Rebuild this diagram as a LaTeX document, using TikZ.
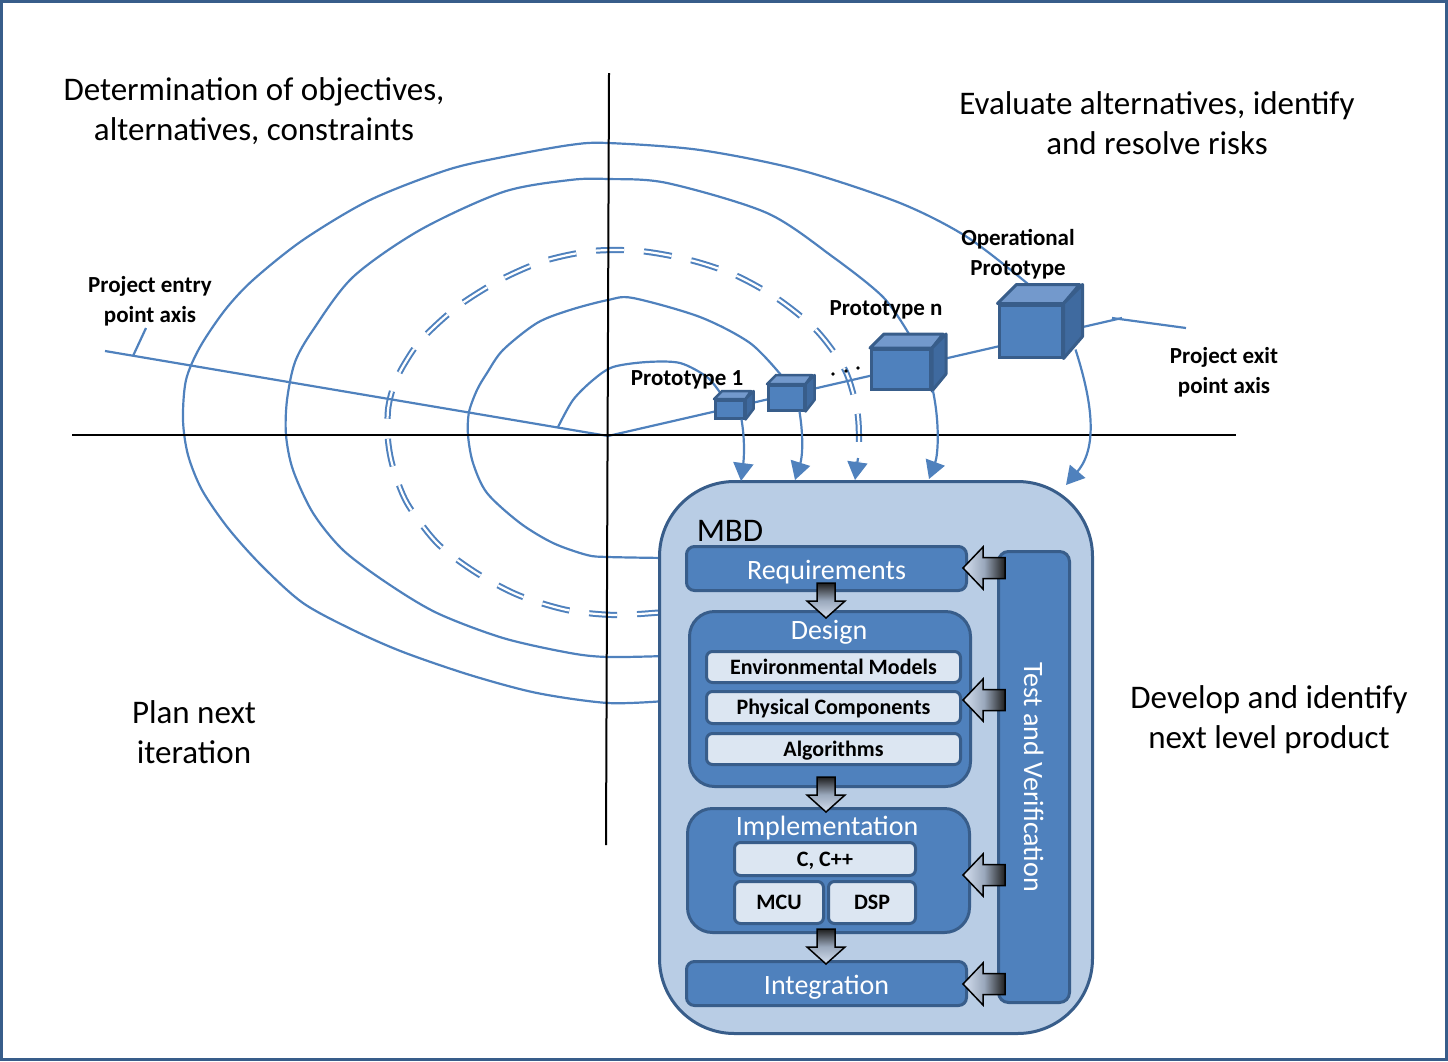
\documentclass[tikz,border=0pt]{standalone}
\usepackage{fontspec}
\setmainfont{Carlito}
\usetikzlibrary{arrows.meta,calc}
\definecolor{sblue}{HTML}{4F81BD}
\definecolor{dblue}{HTML}{385D8A}
\definecolor{mbdfill}{HTML}{B9CDE5}
\definecolor{lightbox}{HTML}{DCE6F2}
\definecolor{cubetop}{HTML}{7399CC}
\definecolor{cubeside}{HTML}{3F6A9F}
\definecolor{arrlight}{HTML}{D5E0F0}
\definecolor{arrmid}{HTML}{9AA8BC}
\definecolor{arrdark}{HTML}{1E1E1E}
\newcommand\mycube[7]{%
  \node[cubef, line width=#7, minimum width=#4pt, minimum height=#5pt, anchor=north west] (#1) at (#2,#3) {};
  \filldraw[fill=cubetop, draw=dblue, line width=#7, line join=round] (#1.north west) -- ++(#6,-#6) -- ++(#4,0) -- (#1.north east) -- cycle;
  \filldraw[fill=cubeside, draw=dblue, line width=#7, line join=round] (#1.north east) -- ++(#6,-#6) -- ++(0,#5) -- (#1.south east) -- cycle;
}
\begin{document}
\begin{tikzpicture}[x=1pt,y=-1pt,
  spiral/.style={draw=sblue, line width=2.2pt},
  dbl/.style={draw=sblue, line width=2pt, double=white, double distance=2.2pt, dash pattern=on 28pt off 20pt},
  axisline/.style={draw=black, line width=2pt},
  tipa/.style={-{Triangle[length=18pt,width=20pt]}},
  bigtxt/.style={font=\fontsize{33}{40}\selectfont, align=center, inner sep=0},
  lbl/.style={font=\bfseries\fontsize{23}{30}\selectfont, align=center, inner sep=0},
  cubef/.style={rectangle, fill=sblue, draw=dblue, inner sep=0},
  mbdbox/.style={rectangle, rounded corners=75pt, fill=mbdfill, draw=dblue, line width=3pt, inner sep=0},
  phase/.style={rectangle, rounded corners=8pt, fill=sblue, draw=dblue, line width=3pt, inner sep=0},
  group/.style={rectangle, rounded corners=25pt, fill=sblue, draw=dblue, line width=3pt, inner sep=0},
  sub/.style={rectangle, rounded corners=6pt, fill=lightbox, draw=dblue, line width=3pt, inner sep=0, text height=14pt, text depth=0pt, font=\bfseries\fontsize{22}{26}\selectfont},
  wtxt/.style={text=white, font=\fontsize{28}{32}\selectfont, inner sep=0, text height=18pt, text depth=0pt},
  downblk/.pic={\shadedraw[top color=arrdark, bottom color=arrlight, middle color=arrmid, draw=black, line width=1.5pt] (-9,0) -- (9,0) -- (9,18) -- (19,18) -- (0,35) -- (-19,18) -- (-9,18) -- cycle;},
  leftblk/.pic={\shadedraw[left color=arrlight, right color=arrdark, middle color=arrmid, draw=black, line width=1.5pt] (0,0) -- (20,-21) -- (20,-10.5) -- (42,-10.5) -- (42,10.5) -- (20,10.5) -- (20,21) -- cycle;}
]
\useasboundingbox (0,0) rectangle (1448,1061);
\draw[dblue, line width=3pt] (1.5,1.5) rectangle (1446.5,1059.5);

% spiral rings
\draw[spiral] plot[smooth] coordinates {(558,427) (573,400) (593,380) (613,367) (647,362) (680,363) (707,377) (721,394)};
\draw[spiral] plot[smooth] coordinates {(665,558) (608,557) (587,555) (553,543) (520,523) (487,493) (473,463) (468,435) (469,412) (477,390) (487,373) (503,350) (537,323) (570,310) (608,300) (633,298) (700,317) (750,343) (781,375)};
\draw[dbl] plot[smooth] coordinates {(665,612) (615,615) (567,610) (518,595) (475,572) (437,543) (407,503) (393,467) (388,440) (388,410) (393,388) (402,368) (421,340) (457,307) (500,280) (544,261) (592,251) (640,251) (690,260) (735,275) (778,299) (817,331) (845,370) (857,410) (859,440) (858,462)};
\draw[spiral] plot[smooth] coordinates {(665,656) (608,657) (570,653) (503,638) (437,613) (387,583) (343,550) (313,513) (293,470) (286,435) (287,400) (295,362) (313,330) (353,277) (420,230) (503,192) (570,180) (608,179) (667,183) (767,213) (833,257) (883,297) (909,334)};
\draw[spiral] plot[smooth] coordinates {(665,701) (608,703) (537,693) (470,675) (403,652) (353,630) (303,603) (262,566) (228,528) (202,490) (188,455) (183,420) (186,380) (200,347) (225,310) (253,280) (303,240) (370,200) (447,170) (503,157) (570,145) (608,143) (700,150) (800,170) (900,203) (967,237) (1028,284)};

% axes
\coordinate (O) at (608,436);
\coordinate (entry) at (105,351);
\coordinate (exitend) at (1122,318);
\draw[spiral] (entry) -- (O);
\draw[spiral] (O) -- (exitend);
\coordinate (entrytick) at (146,328);
\coordinate (entryfoot) at (133,356);
\draw[spiral] (entryfoot) -- (entrytick);
\coordinate (exittick) at (1186,328);
\coordinate (exitfoot) at (1112,318);
\draw[spiral] (exitfoot) -- (exittick);
\coordinate (hl) at (72,435);
\coordinate (hr) at (1236,435);
\coordinate (vt) at (609,73);
\coordinate (vb) at (606,845);
\draw[axisline] (hl) -- (hr);
\draw[axisline] (vt) -- (vb);

% cubes
\mycube{c1}{714}{399}{29}{18}{8}{2.5pt}
\mycube{c2}{767}{384}{36}{25}{9}{2.5pt}
\mycube{cn}{870}{348}{59}{40}{14}{3pt}
\mycube{co}{997.5}{303.5}{63}{52}{19}{3pt}
\fill (833,374) circle (1.8pt);
\fill (846,371) circle (1.8pt);
\fill (858,368) circle (1.8pt);

% MBD box
\node[mbdbox, minimum width=433pt, minimum height=552pt] (mbd) at (876,757.5) {};
\node[font=\fontsize{33}{36}\selectfont, inner sep=0] (mbdt) at (730,531) {MBD};
\node[phase, minimum width=280pt, minimum height=44pt] (req) at (826.5,568.5) {};
\node[wtxt] at (826.5,570.5) {Requirements};
\node[group, minimum width=281pt, minimum height=175pt] (design) at (830,699) {};
\node[wtxt] (designt) at (829,630) {Design};
\node[sub, minimum width=254pt, minimum height=31pt] (env) at (833.5,667) {Environmental Models};
\node[sub, minimum width=254pt, minimum height=32pt] (phys) at (833.5,707.5) {Physical Components};
\node[sub, minimum width=254pt, minimum height=31pt] (alg) at (833.5,749) {Algorithms};
\node[group, minimum width=282pt, minimum height=124pt] (impl) at (828.5,870.5) {};
\node[wtxt] (implt) at (827,826) {Implementation};
\node[sub, minimum width=181pt, minimum height=33pt] (cpp) at (825,859) {C, C++};
\node[sub, minimum width=89pt, minimum height=42pt] (mcu) at (779,902.5) {MCU};
\node[sub, minimum width=87pt, minimum height=42pt] (dsp) at (872,902.5) {DSP};
\node[phase, minimum width=280pt, minimum height=44pt] (integ) at (826.5,983.5) {};
\node[wtxt] at (826.5,985) {Integration};
\node[phase, rounded corners=10pt, minimum width=71pt, minimum height=451pt] (test) at (1034,777) {};
\node[wtxt, rotate=-90] at (1033,777) {Test and Verification};

% block arrows
\pic at (826,583) {downblk};
\pic at (826,777) {downblk};
\pic at (826,929) {downblk};
\pic at (963,568) {leftblk};
\pic at (963,700) {leftblk};
\pic at (963,875) {leftblk};
\pic at (963,984) {leftblk};

% arrows from prototypes into MBD
\coordinate (tA) at (741,481);
\coordinate (tB) at (795,480);
\coordinate (tC) at (855,480);
\coordinate (tD) at (929,479);
\coordinate (tE) at (1066,485);
\draw[spiral, tipa] ([xshift=-4pt]c1.south east) .. controls (745,440) and (744,458) .. (tA);
\draw[spiral, tipa] ([xshift=-6pt]c2.south east) .. controls (804,440) and (802,458) .. (tB);
\draw[spiral, tipa] (858,458) -- (tC);
\draw[spiral, tipa] ([xshift=1pt]cn.south east) .. controls (940,425) and (938,455) .. (tD);
\draw[spiral, tipa] ($(co.south east)+(12,-9)$) .. controls (1090,395) and (1100,445) .. (tE);

% texts
\node[bigtxt] (t1) at (254,111) {Determination of objectives,\\alternatives, constraints};
\node[bigtxt] (t2) at (1157,123) {Evaluate alternatives, identify\\and resolve risks};
\node[bigtxt] (t3) at (194,732) {Plan next\\iteration};
\node[bigtxt] (t4) at (1269,720) {Develop and identify\\next level product};
\node[lbl] (l1) at (150,301) {Project entry\\point axis};
\node[lbl] (l2) at (1224,372) {Project exit\\point axis};
\node[lbl] (l3) at (1018,254) {Operational\\Prototype};
\node[lbl] (l4) at (886,310) {Prototype n};
\node[lbl] (l5) at (687,380) {Prototype 1};
\end{tikzpicture}
\end{document}
